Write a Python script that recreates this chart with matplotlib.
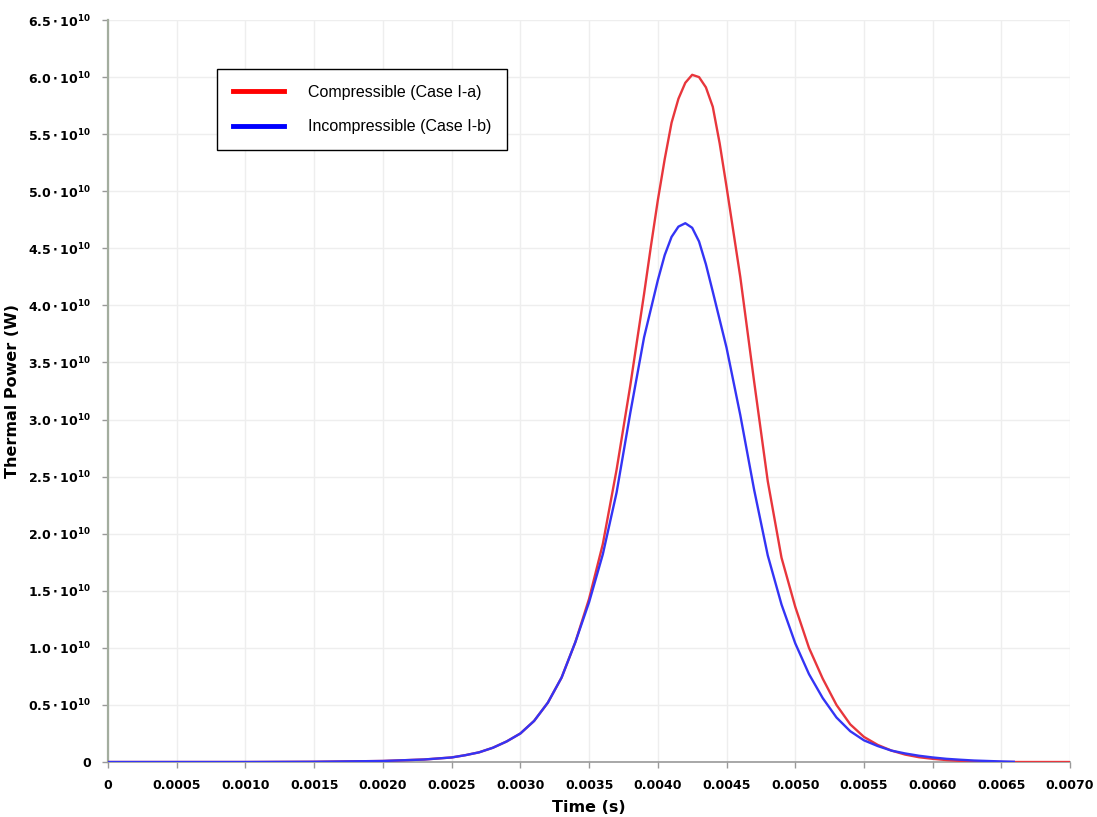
import numpy as np
import matplotlib
matplotlib.use("Agg")
import matplotlib.pyplot as plt
from matplotlib.ticker import FuncFormatter, MultipleLocator

# (time in s, power in 1e10 W)
t_comp = [0, 0.0010, 0.0015, 0.0020, 0.0023, 0.0025, 0.0026, 0.0027, 0.0028, 0.0029,
          0.0030, 0.0031, 0.0032, 0.0033, 0.0034, 0.0035, 0.0036, 0.0037, 0.0038,
          0.0039, 0.00395, 0.0040, 0.00405, 0.0041, 0.00415, 0.0042, 0.00425,
          0.0043, 0.00435, 0.0044, 0.00445, 0.0045, 0.0046, 0.0047, 0.0048,
          0.0049, 0.0050, 0.0051, 0.0052, 0.0053, 0.0054, 0.0055, 0.0056,
          0.0057, 0.0058, 0.0059, 0.0060, 0.0061, 0.0062, 0.0063, 0.0065, 0.0070]
p_comp = [0, 0.0, 0.002, 0.009, 0.022, 0.04, 0.06, 0.085, 0.125, 0.18,
          0.25, 0.36, 0.52, 0.74, 1.05, 1.43, 1.91, 2.56, 3.30,
          4.10, 4.52, 4.92, 5.28, 5.60, 5.81, 5.95, 6.02,
          6.00, 5.91, 5.74, 5.42, 5.04, 4.25, 3.34, 2.46,
          1.79, 1.36, 1.0, 0.73, 0.50, 0.33, 0.22, 0.15,
          0.10, 0.065, 0.042, 0.028, 0.017, 0.01, 0.005, 0.0, 0.0]

t_incomp = [0, 0.0010, 0.0015, 0.0020, 0.0023, 0.0025, 0.0026, 0.0027, 0.0028, 0.0029,
            0.0030, 0.0031, 0.0032, 0.0033, 0.0034, 0.0035, 0.0036, 0.0037, 0.0038,
            0.0039, 0.0040, 0.00405, 0.0041, 0.00415, 0.0042, 0.00425, 0.0043,
            0.00435, 0.0044, 0.0045, 0.0046, 0.0047, 0.0048, 0.0049, 0.0050,
            0.0051, 0.0052, 0.0053, 0.0054, 0.0055, 0.0056, 0.0057, 0.0058,
            0.0059, 0.0060, 0.0061, 0.0062, 0.0063, 0.0065, 0.00659]
p_incomp = [0, 0.0, 0.002, 0.009, 0.022, 0.04, 0.06, 0.085, 0.125, 0.18,
            0.25, 0.36, 0.52, 0.74, 1.05, 1.40, 1.82, 2.36, 3.06,
            3.72, 4.22, 4.44, 4.60, 4.69, 4.72, 4.68, 4.56,
            4.36, 4.12, 3.63, 3.04, 2.39, 1.81, 1.38, 1.04,
            0.77, 0.56, 0.39, 0.27, 0.19, 0.14, 0.10, 0.075,
            0.055, 0.04, 0.028, 0.02, 0.013, 0.005, 0.002]

scale = 1e10

fig = plt.figure(figsize=(10.97, 8.17), dpi=100)
ax = fig.add_axes([0.0985, 0.0673, 0.877, 0.9082])

ax.plot(t_comp, np.array(p_comp) * scale, color='#e8363c', lw=1.7, zorder=3)
ax.plot(t_incomp, np.array(p_incomp) * scale, color='#3434f5', lw=1.7, zorder=4)

ax.set_xlim(0, 0.007)
ax.set_ylim(0, 6.5e10)
ax.xaxis.set_major_locator(MultipleLocator(0.0005))
ax.yaxis.set_major_locator(MultipleLocator(0.5e10))

def xfmt(v, pos):
    if abs(v) < 1e-12:
        return '0'
    return '%.4f' % v

def yfmt(v, pos):
    if abs(v) < 1:
        return '0'
    return r'$\mathbf{%.1f\cdot10^{10}}$' % (v / scale)

ax.xaxis.set_major_formatter(FuncFormatter(xfmt))
ax.yaxis.set_major_formatter(FuncFormatter(yfmt))
for lab in ax.get_xticklabels() + ax.get_yticklabels():
    lab.set_fontweight('bold')
ax.tick_params(axis='both', labelsize=9, color='#999999', length=4, width=1)
ax.tick_params(axis='x', pad=8)
ax.tick_params(axis='y', pad=8)

ax.grid(True, color='#eeeeee', lw=1)
ax.set_axisbelow(True)
for s in ['top', 'right']:
    ax.spines[s].set_visible(False)
ax.spines['left'].set_color('#a3ad9e')
ax.spines['left'].set_linewidth(1.6)
ax.spines['bottom'].set_color('#999999')
ax.spines['bottom'].set_linewidth(1.2)

ax.set_xlabel('Time (s)', fontsize=11.5, fontweight='bold', labelpad=6)
ax.set_ylabel('Thermal Power (W)', fontsize=11.5, fontweight='bold', labelpad=6)

h1, = ax.plot([], [], color='#ff0000', lw=3.5)
h2, = ax.plot([], [], color='#0000ff', lw=3.5)
leg = fig.legend([h1, h2], ['Compressible (Case I-a)', 'Incompressible (Case I-b)'],
                 loc='upper left', bbox_to_anchor=(0.1978, 0.9155),
                 prop={'family': 'Liberation Sans', 'size': 11.5},
                 fancybox=False, edgecolor='black', framealpha=1,
                 handlelength=3.2, handletextpad=1.5, labelspacing=1.2,
                 borderpad=1.0, borderaxespad=0)
leg.get_frame().set_linewidth(1.0)

fig.savefig('out.png', dpi=100)
